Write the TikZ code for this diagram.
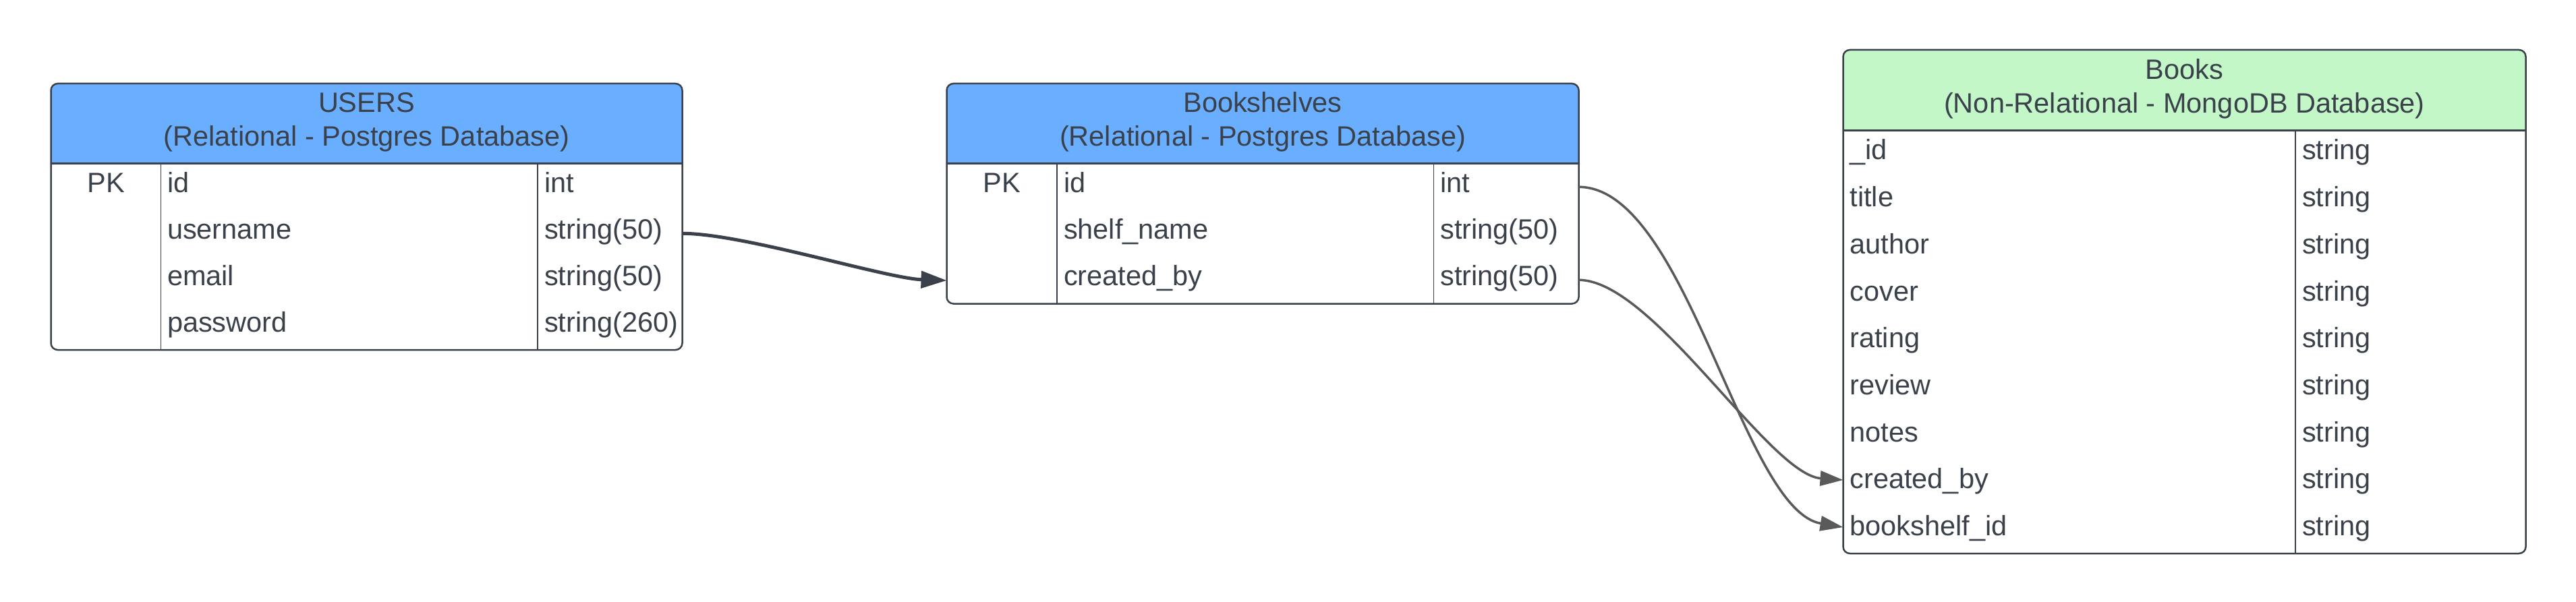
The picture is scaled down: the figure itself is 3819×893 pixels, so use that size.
\documentclass[tikz,border=0pt]{standalone}
\usepackage{fontspec}
\setmainfont{Liberation Sans}
\usetikzlibrary{arrows.meta}
\definecolor{ink}{HTML}{3A414A}
\definecolor{hdrblue}{HTML}{6AAEFF}
\definecolor{hdrgreen}{HTML}{C3F7C8}
\definecolor{linkgrey}{HTML}{5A5A5A}
\tikzset{
  tblbox/.style={fill=white, inner sep=0pt, outer sep=0pt, anchor=north west, rectangle},
  tblborder/.style={draw=ink, line width=2.5pt, rounded corners=10pt},
  hdrline/.style={draw=ink, line width=2.5pt},
  coldiv/.style={draw=ink, line width=1.5pt},
  celltxt/.style={anchor=base west, inner sep=0pt, outer sep=0pt},
  cellmid/.style={anchor=base, inner sep=0pt, outer sep=0pt},
  fkmain/.style={draw=ink, line width=5pt, -{Triangle[length=38pt,width=25pt]}},
  fklink/.style={draw=linkgrey, line width=3.5pt, -{Triangle[length=34pt,width=22pt]}},
}
\begin{document}
\begin{tikzpicture}[x=1pt, y=-1pt, font=\fontsize{41.5}{50}\selectfont, text=ink]
\useasboundingbox[fill=white] (0,0) rectangle (3819,893);

% ---------------- USERS ----------------
\node[tblbox, minimum width=936pt, minimum height=395pt] (users) at (75.5,124) {};
\begin{scope}
  \clip[rounded corners=10pt] (75.5,124) rectangle (1011.5,519);
  \fill[hdrblue] (75.5,124) rectangle (1011.5,242.7);
\end{scope}
\draw[hdrline] (75.5,242.7) -- (1011.5,242.7);
\draw[coldiv] (238.5,242.7) -- (238.5,519);
\draw[coldiv] (797,242.7) -- (797,519);
\draw[tblborder] (75.5,124) rectangle (1011.5,519);
\node[cellmid] (users-t1) at (543.5,166.5) {USERS};
\node[cellmid] (users-t2) at (543.5,216.5) {(Relational - Postgres Database)};
\node[cellmid] (users-pk) at (157,285.3) {PK};
\node[celltxt] (users-n1) at (248,285.3) {id};
\node[celltxt] (users-y1) at (807,285.3) {int};
\node[celltxt] (users-n2) at (248,354.4) {username};
\node[celltxt] (users-y2) at (807,354.4) {string(50)};
\node[celltxt] (users-n3) at (248,423.5) {email};
\node[celltxt] (users-y3) at (807,423.5) {string(50)};
\node[celltxt] (users-n4) at (248,492.6) {password};
\node[celltxt] (users-y4) at (807,492.6) {string(260)};
\coordinate (users-username-out) at (users.north east |- 0,346.3);

% ---------------- Bookshelves ----------------
\node[tblbox, minimum width=937pt, minimum height=326.5pt] (shelves) at (1403.5,124) {};
\begin{scope}
  \clip[rounded corners=10pt] (1403.5,124) rectangle (2340.5,450.5);
  \fill[hdrblue] (1403.5,124) rectangle (2340.5,242.7);
\end{scope}
\draw[hdrline] (1403.5,242.7) -- (2340.5,242.7);
\draw[coldiv] (1567,242.7) -- (1567,450.5);
\draw[coldiv] (2125.5,242.7) -- (2125.5,450.5);
\draw[tblborder] (1403.5,124) rectangle (2340.5,450.5);
\node[cellmid] (shelves-t1) at (1872,166.5) {Bookshelves};
\node[cellmid] (shelves-t2) at (1872,216.5) {(Relational - Postgres Database)};
\node[cellmid] (shelves-pk) at (1485,285.3) {PK};
\node[celltxt] (shelves-n1) at (1577,285.3) {id};
\node[celltxt] (shelves-y1) at (2135.5,285.3) {int};
\node[celltxt] (shelves-n2) at (1577,354.4) {shelf\_name};
\node[celltxt] (shelves-y2) at (2135.5,354.4) {string(50)};
\node[celltxt] (shelves-n3) at (1577,423.5) {created\_by};
\node[celltxt] (shelves-y3) at (2135.5,423.5) {string(50)};
\coordinate (shelves-createdby-in) at (shelves.north west |- 0,416);
\coordinate (shelves-id-out) at (shelves.north east |- 0,277.3);
\coordinate (shelves-createdby-out) at (shelves.north east |- 0,415.3);

% ---------------- Books ----------------
\node[tblbox, minimum width=1012pt, minimum height=747pt] (books) at (2732.5,74) {};
\begin{scope}
  \clip[rounded corners=10pt] (2732.5,74) rectangle (3744.5,821);
  \fill[hdrgreen] (2732.5,74) rectangle (3744.5,193.5);
\end{scope}
\draw[hdrline] (2732.5,193.5) -- (3744.5,193.5);
\draw[coldiv] (3403,193.5) -- (3403,821);
\draw[tblborder] (2732.5,74) rectangle (3744.5,821);
\node[cellmid] (books-t1) at (3238.5,117.5) {Books};
\node[cellmid] (books-t2) at (3238.5,167.5) {(Non-Relational - MongoDB Database)};
\node[celltxt] (books-n1) at (2742.5,236.9) {\_id};
\node[celltxt] (books-y1) at (3413,236.9) {string};
\node[celltxt] (books-n2) at (2742.5,306.6) {title};
\node[celltxt] (books-y2) at (3413,306.6) {string};
\node[celltxt] (books-n3) at (2742.5,376.3) {author};
\node[celltxt] (books-y3) at (3413,376.3) {string};
\node[celltxt] (books-n4) at (2742.5,446.0) {cover};
\node[celltxt] (books-y4) at (3413,446.0) {string};
\node[celltxt] (books-n5) at (2742.5,515.8) {rating};
\node[celltxt] (books-y5) at (3413,515.8) {string};
\node[celltxt] (books-n6) at (2742.5,585.5) {review};
\node[celltxt] (books-y6) at (3413,585.5) {string};
\node[celltxt] (books-n7) at (2742.5,655.2) {notes};
\node[celltxt] (books-y7) at (3413,655.2) {string};
\node[celltxt] (books-n8) at (2742.5,724.9) {created\_by};
\node[celltxt] (books-y8) at (3413,724.9) {string};
\node[celltxt] (books-n9) at (2742.5,794.6) {bookshelf\_id};
\node[celltxt] (books-y9) at (3413,794.6) {string};
\coordinate (books-createdby-in) at (books.north west |- 0,712);
\coordinate (books-shelfid-in) at (books.north west |- 0,782);

% ---------------- Connectors ----------------
\draw[fkmain] (users-username-out) .. controls +(90,0) and +(-90,-3) .. (shelves-createdby-in);
\draw[fklink] (shelves-id-out) .. controls +(160,0) and +(-150,-25) .. (books-shelfid-in);
\draw[fklink] (shelves-createdby-out) .. controls +(110,0) and +(-110,-8) .. (books-createdby-in);
\end{tikzpicture}
\end{document}
